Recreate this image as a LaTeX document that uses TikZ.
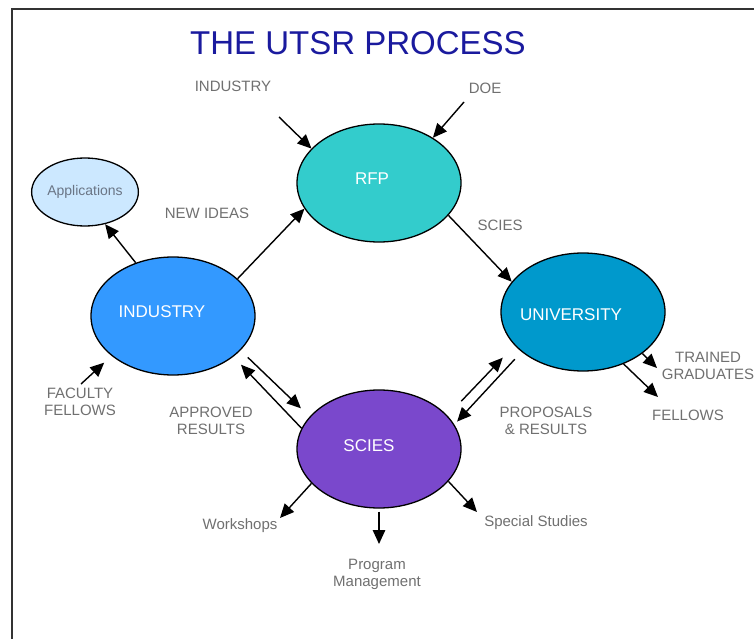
\documentclass[tikz,border=0pt]{standalone}
\usepackage{fontspec}
\setmainfont{Liberation Sans}
\usetikzlibrary{arrows.meta, shapes.geometric}
\definecolor{Navy}{HTML}{1A1A9E}
\definecolor{Grey}{HTML}{707070}
\definecolor{AppText}{HTML}{6A7585}
\definecolor{RfpCol}{HTML}{33CCCC}
\definecolor{IndCol}{HTML}{3399FF}
\definecolor{UniCol}{HTML}{0099CC}
\definecolor{SciCol}{HTML}{7A48CC}
\definecolor{AppCol}{HTML}{CCE8FF}
\definecolor{Frame}{HTML}{333333}
\tikzset{
    blob/.style={ellipse, draw=black, line width=1.3pt, minimum width=164pt, minimum height=118pt, inner sep=0pt},
    blobtext/.style={text=white, font=\fontsize{17}{20}\selectfont},
    lbl/.style={text=Grey, align=center, font=\fontsize{15}{17}\selectfont, inner sep=1pt},
    arr/.style={-{Triangle[length=14pt, width=12.5pt]}, line width=1.4pt},
}

\begin{document}
\begin{tikzpicture}[x=1pt, y=-1pt]
                \useasboundingbox (0,0) rectangle (754,639);
                \fill[white] (0,0) rectangle (754,639);
                % cornice
                \draw[Frame, line width=2pt] (12,650) -- (12,9) -- (760,9);
                
                % Titolo
                \node[text=Navy, font=\fontsize{33}{38}\selectfont] (title) at (358,43) {THE UTSR PROCESS};
                
                % Ellissi principali
                \node[blob, fill=RfpCol] (rfp) at (379,183) {};
                \node[blob, fill=IndCol] (industry) at (173,316) {};
                \node[blob, fill=UniCol] (university) at (583,312) {};
                \node[blob, fill=SciCol] (scies) at (379,449) {};
                \node[ellipse, draw=black, line width=1.3pt, fill=AppCol, minimum width=96pt, minimum height=68pt, inner sep=0pt,
                      text=AppText, font=\fontsize{14}{16}\selectfont] (apps) at (85,192) {Applications};
                
                \node[blobtext] (rfp-t) at (372,179) {RFP};
                \node[blobtext] (industry-t) at (162,312) {INDUSTRY};
                \node[blobtext] (university-t) at (571,315) {UNIVERSITY};
                \node[blobtext] (scies-t) at (369,446) {SCIES};
                
                % Etichette
                \node[lbl] (ind-lbl) at (233,86) {INDUSTRY};
                \node[lbl] (doe-lbl) at (485,88) {DOE};
                \node[lbl] (ideas-lbl) at (207,213) {NEW IDEAS};
                \node[lbl] (sc-lbl) at (500,225) {SCIES};
                \node[lbl] (fac-lbl) at (80,402) {FACULTY\\FELLOWS};
                \node[lbl] (appr-lbl) at (211,421) {APPROVED\\RESULTS};
                \node[lbl] (prop-lbl) at (546,421) {PROPOSALS\\\& RESULTS};
                \node[lbl] (grad-lbl) at (708,366) {TRAINED\\GRADUATES};
                \node[lbl] (fell-lbl) at (688,415) {FELLOWS};
                \node[lbl] (work-lbl) at (240,526) {Workshops};
                \node[lbl] (prog-lbl) at (377,574) {Program\\Management};
                \node[lbl] (spec-lbl) at (536,523) {Special Studies};
                
                % Estremi liberi delle frecce
                \coordinate (indin) at (279,117);
                \coordinate (doein) at (464,102);
                \coordinate (facin) at (81,384);
                \coordinate (gradin) at (657,368);
                \coordinate (fellin) at (658,397);
                \coordinate (workin) at (280,518);
                \coordinate (progin) at (379,544);
                \coordinate (specin) at (477,512);
                
                % Frecce verso RFP e UNIVERSITY
                \draw[arr] (indin) -- (rfp.153);
                \draw[arr] (doein) -- (rfp.40);
                \draw[arr] (industry.30) -- (rfp.199);
                \draw[arr] (rfp.-25) -- (university.157);
                
                % INDUSTRY
                \draw[arr] (industry.125) -- (apps.-58);
                \draw[arr, shorten >=10pt] (facin) -- (industry.213);
                
                % Frecce doppie con SCIES
                \draw[arr, shorten >=11pt] (scies.165) -- (industry.-34);
                \draw[arr, shorten <=10pt, shorten >=12pt] (industry.-27) -- (scies.155);
                \draw[arr, shorten <=20pt, shorten >=17pt] (scies.26) -- (university.206);
                \draw[arr, shorten <=10pt, shorten >=4pt] (university.213) -- (scies.18);
                
                % Uscite
                \draw[arr] (university.-35) -- (gradin);
                \draw[arr] (university.-52) -- (fellin);
                \draw[arr] (scies.207) -- (workin);
                \draw[arr, shorten <=3pt] (scies.south) -- (progin);
                \draw[arr] (scies.-25) -- (specin);
            \end{tikzpicture}
\end{document}
